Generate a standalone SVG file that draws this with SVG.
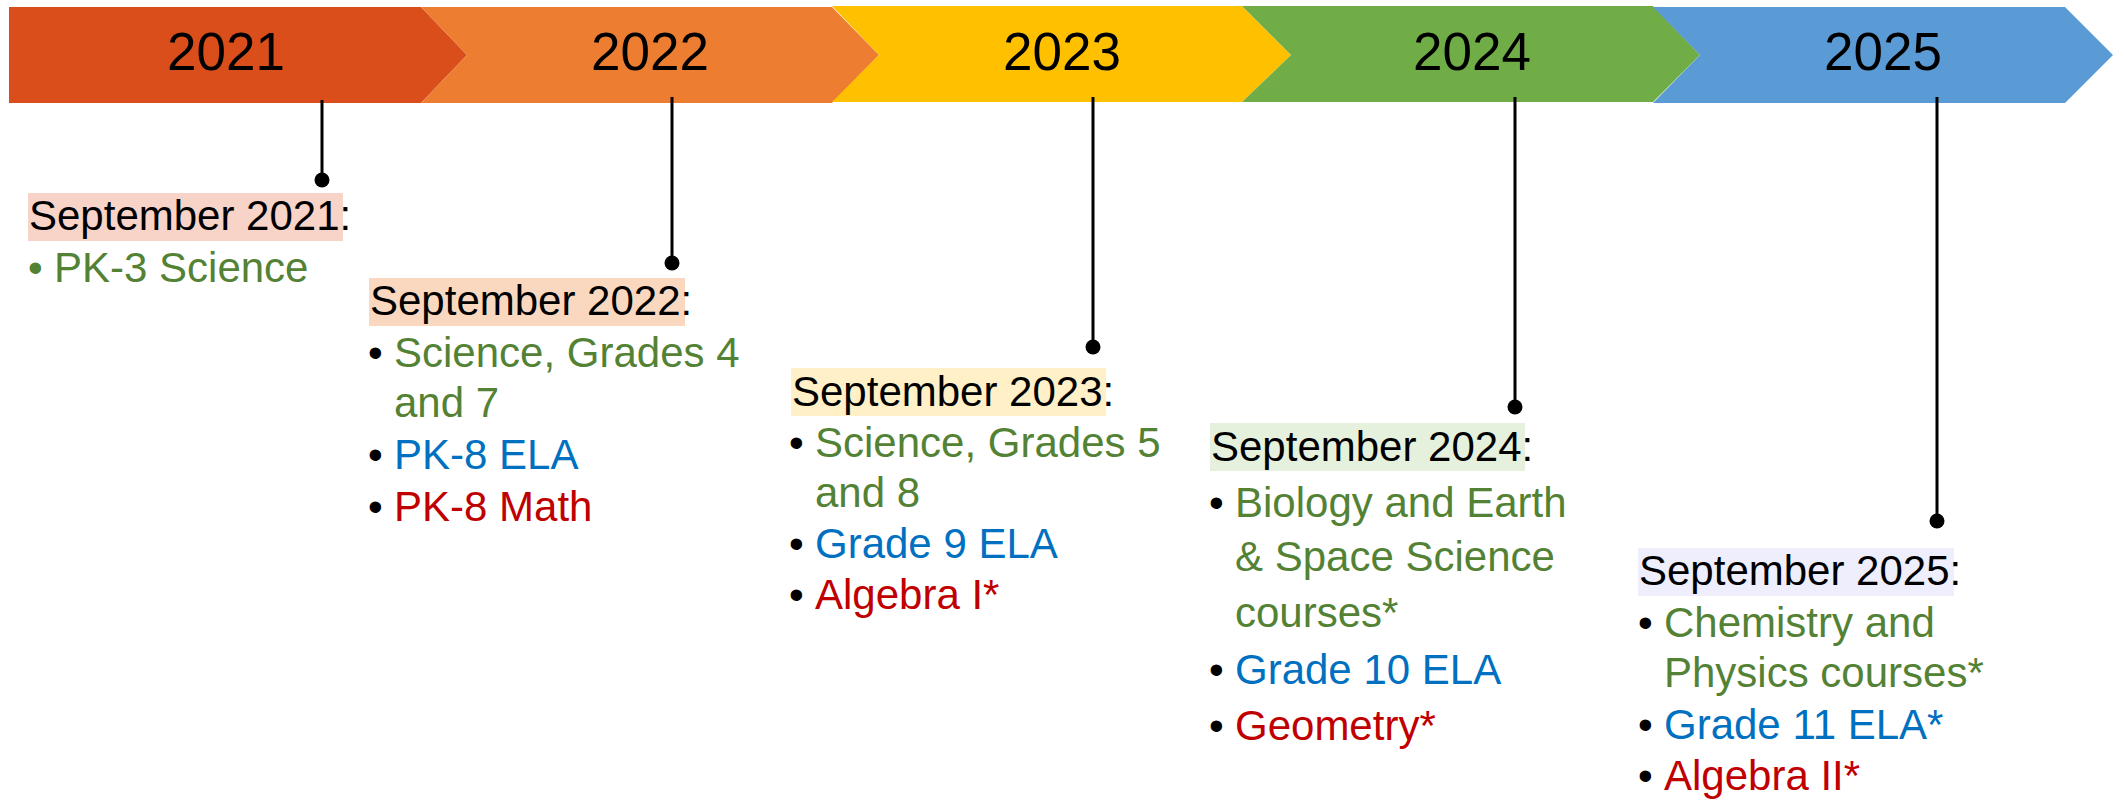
<svg xmlns="http://www.w3.org/2000/svg" width="2124" height="800" viewBox="0 0 2124 800">
<style>
text{font-family:"Liberation Sans",Arial,sans-serif;}
.yr{font-size:53px;fill:#000;text-anchor:middle;}
.hd{font-size:42px;fill:#000;}
.it{font-size:42px;}
.g{fill:#548235;}
.b{fill:#0070C0;}
.r{fill:#C00000;}
.k{fill:#000;}
.conn line{stroke:#000;stroke-width:3;}
.conn circle{fill:#000;}
</style>
<rect width="2124" height="800" fill="#fff"/>
<g id="banner">
<g id="y2021"><polygon points="9,7 421,7 467,55 421,103 9,103" fill="#DA4E1B"/><text class="yr" x="226" y="70">2021</text></g>
<g id="y2022"><polygon points="421,7 832,7 879,55 832,103 421,103 467,55" fill="#ED7D31"/><text class="yr" x="650" y="70">2022</text></g>
<g id="y2023"><polygon points="832,6 1242,6 1291,55 1242,102 832,102 879,55" fill="#FFC000"/><text class="yr" x="1062" y="70">2023</text></g>
<g id="y2024"><polygon points="1242,6 1653,6 1700,55 1653,102 1242,102 1291,55" fill="#70AD47"/><text class="yr" x="1472" y="70">2024</text></g>
<g id="y2025"><polygon points="1653,7 2065,7 2113,55 2065,103 1653,103 1700,55" fill="#5B9BD5"/><text class="yr" x="1883" y="70">2025</text></g>
</g>
<g id="connectors" class="conn">
<line x1="322" y1="100" x2="322" y2="180"/><circle cx="322" cy="180" r="7.5"/>
<line x1="672" y1="97" x2="672" y2="263"/><circle cx="672" cy="263" r="7.5"/>
<line x1="1093" y1="97" x2="1093" y2="347"/><circle cx="1093" cy="347" r="7.5"/>
<line x1="1515" y1="97" x2="1515" y2="407"/><circle cx="1515" cy="407" r="7.5"/>
<line x1="1937" y1="97" x2="1937" y2="521"/><circle cx="1937" cy="521" r="7.5"/>
</g>
<g id="sep2021">
<rect x="28" y="193" width="315" height="48" fill="#F8D3C8"/>
<text class="hd" x="29" y="230">September 2021:</text>
<text class="it g" x="28" y="282">•</text><text class="it g" x="54" y="282">PK-3 Science</text>
</g>
<g id="sep2022">
<rect x="369" y="278" width="316" height="48" fill="#FAD8C0"/>
<text class="hd" x="370" y="315">September 2022:</text>
<text class="it k" x="368" y="367">•</text><text class="it g" x="394" y="367">Science, Grades 4</text>
<text class="it g" x="394" y="417">and 7</text>
<text class="it k" x="368" y="469">•</text><text class="it b" x="394" y="469">PK-8 ELA</text>
<text class="it k" x="368" y="521">•</text><text class="it r" x="394" y="521">PK-8 Math</text>
</g>
<g id="sep2023">
<rect x="791" y="368" width="315" height="48" fill="#FFF0C8"/>
<text class="hd" x="792" y="406">September 2023:</text>
<text class="it k" x="789" y="457">•</text><text class="it g" x="815" y="457">Science, Grades 5</text>
<text class="it g" x="815" y="507">and 8</text>
<text class="it k" x="789" y="558">•</text><text class="it b" x="815" y="558">Grade 9 ELA</text>
<text class="it k" x="789" y="609">•</text><text class="it r" x="815" y="609">Algebra I*</text>
</g>
<g id="sep2024">
<rect x="1210" y="423" width="315" height="48" fill="#E6F1DD"/>
<text class="hd" x="1211" y="461">September 2024:</text>
<text class="it k" x="1209" y="517">•</text><text class="it g" x="1235" y="517">Biology and Earth</text>
<text class="it g" x="1235" y="571">&amp; Space Science</text>
<text class="it g" x="1235" y="627">courses*</text>
<text class="it k" x="1209" y="684">•</text><text class="it b" x="1235" y="684">Grade 10 ELA</text>
<text class="it k" x="1209" y="740">•</text><text class="it r" x="1235" y="740">Geometry*</text>
</g>
<g id="sep2025">
<rect x="1638" y="548" width="316" height="48" fill="#EEEEFC"/>
<text class="hd" x="1639" y="585">September 2025:</text>
<text class="it k" x="1638" y="637">•</text><text class="it g" x="1664" y="637">Chemistry and</text>
<text class="it g" x="1664" y="687">Physics courses*</text>
<text class="it k" x="1638" y="739">•</text><text class="it b" x="1664" y="739">Grade 11 ELA*</text>
<text class="it k" x="1638" y="790">•</text><text class="it r" x="1664" y="790">Algebra II*</text>
</g>
</svg>
